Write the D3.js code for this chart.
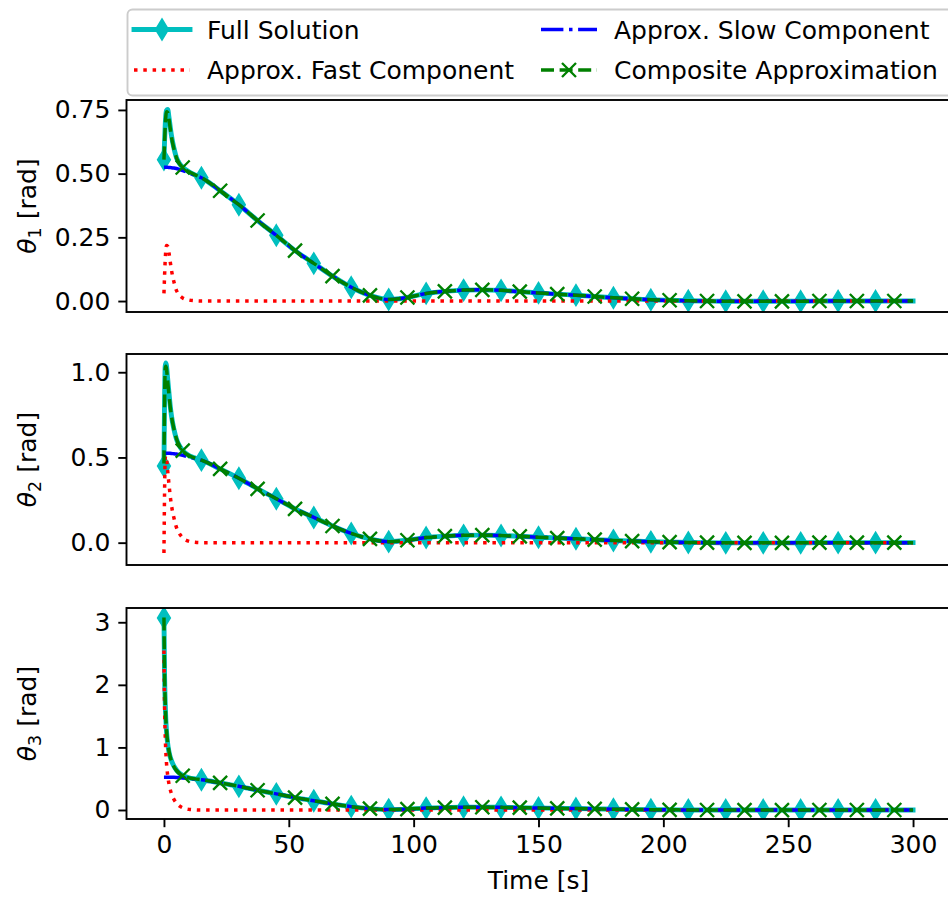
<!DOCTYPE html>
<html><head><meta charset="utf-8">
<script src="https://cdn.jsdelivr.net/npm/d3@7"></script>
<style>
body{margin:0;background:#fff}
svg{display:block}
text{font-family:"DejaVu Sans",sans-serif;fill:#000}
</style>
</head><body>
<svg id="c" width="948" height="897"></svg>
<script>
// ---------------- DATA ----------------
const seriesNames = ["Full Solution", "Approx. Fast Component", "Approx. Slow Component", "Composite Approximation"];
const timeS = [0,0.25,0.5,0.75,1,1.5,2,2.5,3,4,5,6,7.5,10,12.5,
  15,22.5,30,37.5,45,52.5,60,67.5,75,82.5,90,97.5,105,112.5,120,127.5,135,142.5,150,157.5,165,172.5,180,187.5,195,202.5,210,217.5,225,232.5,240,247.5,255,262.5,270,277.5,285,292.5,300];

// values from t = 15 s onward (slow manifold, shared by all angles)
const slowTail = [0.484,0.433,0.378,0.316,0.258,0.198,0.148,0.098,0.054,0.022,0.006,0.014,0.030,0.038,0.043,0.044,0.042,0.037,0.032,0.027,0.023,0.018,0.013,0.009,0.005,0.003,0.001,0.000,-0.001,-0.001,-0.001,-0.001,-0.001,0.000,0.000,0.000,0.000,0.000,0.000];
const fastTail = [0,0,0,0,0,0,0,0,0,0,0,0,0,0,0,0,0,0,0,0,0,0,0,0,0,0,0,0,0,0,0,0,0,0,0,0,0,0,0];

const slowComponent = [0.525,0.525,0.525,0.525,0.525,0.525,0.524,0.524,0.523,0.522,0.520,0.517,0.512,0.503,0.494, ...slowTail];

const fast1 = [0.030,0.100,0.160,0.200,0.218,0.215,0.190,0.155,0.122,0.075,0.042,0.025,0.012,0.004,0.001, ...fastTail];
const full1 = [0.555,0.630,0.690,0.730,0.748,0.752,0.722,0.685,0.650,0.600,0.563,0.543,0.525,0.507,0.495, ...slowTail];
const comp1 = [0.555,0.625,0.685,0.725,0.743,0.740,0.714,0.679,0.645,0.597,0.562,0.542,0.524,0.507,0.495, ...slowTail];

const fast2 = [-0.060,0.300,0.495,0.510,0.495,0.420,0.345,0.275,0.220,0.145,0.090,0.058,0.028,0.008,0.002, ...fastTail];
const full2 = [0.450,0.850,1.035,1.055,1.040,0.960,0.880,0.805,0.745,0.665,0.608,0.574,0.540,0.511,0.496, ...slowTail];
const comp2 = [0.465,0.825,1.020,1.035,1.020,0.945,0.869,0.799,0.743,0.667,0.610,0.575,0.540,0.511,0.496, ...slowTail];

const fast3 = [2.550,1.650,1.200,0.930,0.760,0.550,0.420,0.330,0.260,0.170,0.110,0.070,0.035,0.010,0.003, ...fastTail];
const full3 = [3.070,2.150,1.720,1.450,1.270,1.060,0.930,0.850,0.790,0.700,0.640,0.595,0.552,0.515,0.497, ...slowTail];
const comp3 = [3.075,2.175,1.725,1.455,1.285,1.075,0.944,0.854,0.783,0.692,0.630,0.587,0.547,0.513,0.497, ...slowTail];

const xTicks = [0,50,100,150,200,250,300];
const xTickLabels = ["0","50","100","150","200","250","300"];
const yTicks1 = [0,0.25,0.5,0.75], yTickLabels1 = ["0.00","0.25","0.50","0.75"];
const yTicks2 = [0,0.5,1.0], yTickLabels2 = ["0.0","0.5","1.0"];
const yTicks3 = [0,1,2,3], yTickLabels3 = ["0","1","2","3"];
const yLabelSubs = ["1","2","3"];

// ---------------- STYLE / LAYOUT ----------------
const FS = 25;
const C_FULL = "#00bfbf", C_FAST = "#ff0000", C_SLOW = "#0000ff", C_COMP = "#008000";
const svg = d3.select("#c");
const x = d3.scaleLinear().domain([-15, 315]).range([126.5, 950.5]);

const panels = [
  {top:100, bottom:312, dom:[-0.043, 0.789], full:full1, fast:fast1, comp:comp1, ticks:yTicks1, labels:yTickLabels1},
  {top:354, bottom:565, dom:[-0.131, 1.107], full:full2, fast:fast2, comp:comp2, ticks:yTicks2, labels:yTickLabels2},
  {top:608, bottom:819, dom:[-0.144, 3.228], full:full3, fast:fast3, comp:comp3, ticks:yTicks3, labels:yTickLabels3}
];

const diamondPath = "M0,-10.5L6.4,0L0,10.5L-6.4,0Z";
const xPath = "M-7,-7L7,7M-7,7L7,-7";

function styleSolid(sel, color, w){ sel.attr("fill","none").attr("stroke",color).attr("stroke-width",w).attr("stroke-linejoin","round").attr("stroke-linecap","square"); }
function styleDash(sel, color, w, dash){ sel.attr("fill","none").attr("stroke",color).attr("stroke-width",w).attr("stroke-dasharray",dash).attr("stroke-linejoin","round").attr("stroke-linecap","butt"); }

const DASH_FAST = "3.5,5.8", DASH_SLOW = "22.4,5.6,3.5,5.6", DASH_COMP = "13,5.6";

panels.forEach((p, k) => {
  const y = d3.scaleLinear().domain(p.dom).range([p.bottom, p.top]);
  const g = svg.append("g");
  const cid = "clip" + k;
  svg.append("defs").append("clipPath").attr("id", cid)
    .append("rect").attr("x", x.range()[0]).attr("y", p.top).attr("width", x.range()[1]-x.range()[0]).attr("height", p.bottom-p.top);
  const plot = g.append("g").attr("clip-path", `url(#${cid})`);
  const line = d3.line().x(d => x(d[0])).y(d => y(d[1])).curve(d3.curveMonotoneX);
  const pts = arr => timeS.map((t,i) => [t, arr[i]]);

  // full solution
  plot.append("path").attr("d", line(pts(p.full))).call(styleSolid, C_FULL, 4.9);
  plot.selectAll(".dm").data(pts(p.full).filter(d => d[0] % 15 === 0 && d[0] <= 285)).join("path")
    .attr("d", diamondPath).attr("transform", d => `translate(${x(d[0])},${y(d[1])})`)
    .attr("fill", C_FULL).attr("stroke", C_FULL).attr("stroke-width", 1.5);
  // fast
  plot.append("path").attr("d", line(pts(p.fast))).call(styleDash, C_FAST, 3.5, DASH_FAST);
  // slow
  plot.append("path").attr("d", line(pts(slowComponent))).call(styleDash, C_SLOW, 3.5, DASH_SLOW);
  // composite
  plot.append("path").attr("d", line(pts(p.comp))).call(styleDash, C_COMP, 3.5, DASH_COMP);
  plot.selectAll(".xm").data(pts(p.comp).filter(d => d[0] % 15 === 7.5)).join("path")
    .attr("d", xPath).attr("transform", d => `translate(${x(d[0])},${y(d[1])})`)
    .attr("fill", "none").attr("stroke", C_COMP).attr("stroke-width", 2.35);

  // y axis
  const ay = g.append("g").attr("transform", `translate(${x.range()[0]},0)`)
    .call(d3.axisLeft(y).tickValues(p.ticks).tickFormat((d,i) => p.labels[i]).tickSize(8.2).tickPadding(8));
  ay.select(".domain").remove();
  ay.selectAll(".tick line").attr("stroke", "#000").attr("stroke-width", 1.9);
  ay.selectAll(".tick text").attr("font-size", FS).attr("font-family", "DejaVu Sans").attr("fill", "#000");

  if (k === 2) {
    const ax = g.append("g").attr("transform", `translate(0,${p.bottom})`)
      .call(d3.axisBottom(x).tickValues(xTicks).tickFormat((d,i) => xTickLabels[i]).tickSize(8.2).tickPadding(8));
    ax.select(".domain").remove();
    ax.selectAll(".tick line").attr("stroke", "#000").attr("stroke-width", 1.9);
    ax.selectAll(".tick text").attr("font-size", FS).attr("font-family", "DejaVu Sans").attr("fill", "#000");
  }

  // spines
  const L = x.range()[0], R = x.range()[1];
  g.append("rect").attr("x", L).attr("y", p.top).attr("width", R-L).attr("height", p.bottom-p.top)
    .attr("fill", "none").attr("stroke", "#000").attr("stroke-width", 1.9);

  // y label
  const cy = (p.top + p.bottom) / 2;
  const yl = g.append("text").attr("transform", `translate(36,${cy}) rotate(-90)`)
    .attr("text-anchor", "middle").attr("font-size", FS);
  yl.append("tspan").attr("font-style", "italic").text("θ");
  yl.append("tspan").attr("font-size", 17.5).attr("dy", 5).text(yLabelSubs[k]);
  yl.append("tspan").attr("dy", -5).text(" [rad]");
});

// x label
svg.append("text").attr("x", (x.range()[0] + x.range()[1]) / 2).attr("y", 889)
  .attr("text-anchor", "middle").attr("font-size", FS).text("Time [s]");

// ---------------- LEGEND ----------------
const lg = svg.append("g");
lg.append("rect").attr("x", 127.5).attr("y", 9.5).attr("width", 860).attr("height", 86).attr("rx", 5)
  .attr("fill", "#fff").attr("fill-opacity", 0.8).attr("stroke", "#cccccc").attr("stroke-width", 1.9);
const colX = [134, 541], rowY = [29.5, 70], textX = [207, 614], HL = 56;
const legendItems = [
  {name: seriesNames[0], col:0, row:0, kind:"full"},
  {name: seriesNames[1], col:0, row:1, kind:"fast"},
  {name: seriesNames[2], col:1, row:0, kind:"slow"},
  {name: seriesNames[3], col:1, row:1, kind:"comp"}
];
legendItems.forEach(it => {
  const x0 = colX[it.col], yy = rowY[it.row];
  const seg = lg.append("path").attr("d", `M${x0},${yy}L${x0+HL},${yy}`);
  if (it.kind === "full") {
    seg.call(styleSolid, C_FULL, 4.9);
    lg.append("path").attr("d", diamondPath).attr("transform", `translate(${x0+HL/2},${yy})`)
      .attr("fill", C_FULL).attr("stroke", C_FULL).attr("stroke-width", 1.5);
  } else if (it.kind === "fast") {
    seg.call(styleDash, C_FAST, 3.5, DASH_FAST);
  } else if (it.kind === "slow") {
    seg.call(styleDash, C_SLOW, 3.5, DASH_SLOW);
  } else {
    seg.call(styleDash, C_COMP, 3.5, DASH_COMP);
    lg.append("path").attr("d", xPath).attr("transform", `translate(${x0+HL/2},${yy})`)
      .attr("fill", "none").attr("stroke", C_COMP).attr("stroke-width", 2.35);
  }
  lg.append("text").attr("x", textX[it.col]).attr("y", yy + 9).attr("font-size", FS).text(it.name);
});
</script>
</body></html>
